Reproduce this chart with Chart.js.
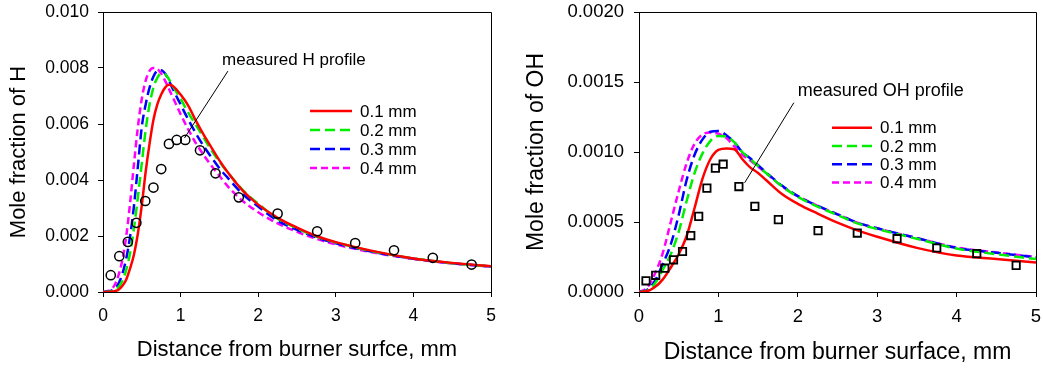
<!DOCTYPE html>
<html>
<head>
<meta charset="utf-8">
<title>H and OH profiles</title>
<script src="https://cdn.jsdelivr.net/npm/chart.js@4.4.1/dist/chart.umd.min.js"></script>
<style>
  html, body { margin: 0; padding: 0; background: #fff; }
  #wrap { position: relative; width: 1043px; height: 372px; }
  #hChart { position: absolute; left: 0; top: 0; }
  #ohChart { position: absolute; left: 520px; top: 0; }
</style>
</head>
<body>
<div id="wrap">
  <canvas id="hChart" width="520" height="372"></canvas>
  <canvas id="ohChart" width="523" height="372"></canvas>
</div>
<script>
// ---- H panel data ----
const distH = [0, 0.1, 0.15, 0.2, 0.25, 0.3, 0.35, 0.4, 0.45, 0.5, 0.55, 0.6, 0.65, 0.7, 0.75, 0.8, 0.85, 0.9,
  1.0, 1.1, 1.2, 1.3, 1.4, 1.5, 1.6, 1.8, 2.0, 2.25, 2.5, 2.75, 3.0, 3.5, 4.0, 4.5, 5.0];
const hModel01 = [0, 0.00001, 0.00003, 0.00008, 0.00022, 0.00045, 0.00085, 0.00135, 0.0021, 0.0031, 0.0043, 0.0053,
  0.00615, 0.0067, 0.00705, 0.0073, 0.0074, 0.00736, 0.00705, 0.00665, 0.0061, 0.0056, 0.00515, 0.0047, 0.0043,
  0.00362, 0.00312, 0.00265, 0.0023, 0.002, 0.00178, 0.00145, 0.0012, 0.00104, 0.00092];
const hModel02 = [0, 0.00002, 0.00006, 0.00018, 0.0004, 0.0008, 0.0014, 0.0023, 0.0034, 0.0046, 0.0058, 0.0067,
  0.0073, 0.00765, 0.0078, 0.00778, 0.0076, 0.00735, 0.0069, 0.0064, 0.00595, 0.0055, 0.00505, 0.00465, 0.0043,
  0.00365, 0.00315, 0.00262, 0.00227, 0.00198, 0.00177, 0.00144, 0.0012, 0.00103, 0.00091];
const hModel03 = [0, 0.00004, 0.00012, 0.0003, 0.00065, 0.0012, 0.002, 0.0031, 0.0045, 0.0059, 0.0067, 0.0073,
  0.0077, 0.0079, 0.00792, 0.0078, 0.00755, 0.00725, 0.0067, 0.00615, 0.00565, 0.0052, 0.0048, 0.00442, 0.0041,
  0.0035, 0.00305, 0.00255, 0.00222, 0.00195, 0.00174, 0.00142, 0.00119, 0.00103, 0.00091];
const hModel04 = [0, 0.00008, 0.00025, 0.0006, 0.00115, 0.002, 0.0032, 0.0046, 0.0059, 0.0069, 0.00755, 0.0079,
  0.008, 0.00797, 0.0078, 0.00755, 0.00725, 0.00695, 0.00635, 0.0058, 0.0053, 0.00488, 0.0045, 0.00415, 0.0038,
  0.00325, 0.00285, 0.00245, 0.00215, 0.0019, 0.0017, 0.0014, 0.00118, 0.00102, 0.0009];
const hMeasX = [0.1, 0.21, 0.32, 0.43, 0.545, 0.65, 0.75, 0.85, 0.95, 1.06, 1.25, 1.45, 1.75, 2.25, 2.76, 3.25, 3.75, 4.25, 4.75];
const hMeasY = [0.0006, 0.00128, 0.00179, 0.00247, 0.00325, 0.00373, 0.00439, 0.00529, 0.00543, 0.00543, 0.00506,
  0.00424, 0.00338, 0.0028, 0.00217, 0.00175, 0.00149, 0.00122, 0.00098];

// ---- OH panel data ----
const distOH = [0, 0.1, 0.2, 0.3, 0.4, 0.5, 0.6, 0.7, 0.8, 0.9, 1.0, 1.1, 1.2, 1.3, 1.4, 1.5, 1.6, 1.8, 2.0,
  2.25, 2.5, 2.75, 3.0, 3.5, 4.0, 4.5, 5.0];
const ohModel01 = [0, 0.000005, 0.000035, 0.00009, 0.000175, 0.00027, 0.0004, 0.0006, 0.00081, 0.00095, 0.001015,
  0.001025, 0.00102, 0.00095, 0.00089, 0.00085, 0.0008, 0.0007, 0.00063, 0.00056, 0.000495, 0.00044, 0.000395,
  0.000315, 0.00026, 0.000235, 0.00021];
const ohModel02 = [0, 0.00001, 0.00006, 0.00016, 0.00027, 0.00043, 0.00065, 0.00085, 0.00099, 0.00108, 0.001115,
  0.00111, 0.00107, 0.001, 0.00095, 0.0009, 0.00085, 0.000755, 0.00068, 0.00061, 0.00055, 0.00049, 0.00045,
  0.00038, 0.00031, 0.00027, 0.000235];
const ohModel03 = [0, 0.000015, 0.00008, 0.0002, 0.00034, 0.00055, 0.0008, 0.00098, 0.00109, 0.001145, 0.00115,
  0.00112, 0.00107, 0.001, 0.000955, 0.000905, 0.000855, 0.00076, 0.000685, 0.000615, 0.000555, 0.000495, 0.000455,
  0.000385, 0.000315, 0.00028, 0.000248];
const ohModel04 = [0, 0.00003, 0.00013, 0.00028, 0.0005, 0.00072, 0.00092, 0.00106, 0.001125, 0.00114, 0.00113,
  0.0011, 0.00104, 0.00098, 0.00094, 0.000895, 0.00085, 0.000755, 0.000685, 0.000615, 0.000555, 0.000495, 0.000455,
  0.000385, 0.000318, 0.000282, 0.00025];
const ohMeasX = [0.088, 0.21, 0.325, 0.435, 0.548, 0.652, 0.752, 0.855, 0.962, 1.06, 1.258, 1.459, 1.755, 2.255,
  2.749, 3.25, 3.75, 4.254, 4.75];
const ohMeasY = [0.00008, 0.000119, 0.00017, 0.00023, 0.000289, 0.000403, 0.00054, 0.000742, 0.000885, 0.000913,
  0.000753, 0.000612, 0.000517, 0.000438, 0.000421, 0.000381, 0.000314, 0.000274, 0.00019];

const seriesLabels = ['0.1 mm', '0.2 mm', '0.3 mm', '0.4 mm'];
const seriesColors = ['#ff0000', '#00ee00', '#0000ff', '#ff00ff'];
const seriesDash = [[], [10, 5], [10, 5], [7, 4]];

const chartFont = "'Liberation Sans', Arial, sans-serif";
Chart.defaults.color = '#000';
Chart.defaults.font.family = chartFont;

function pts(xs, ys) {
  return xs.map((x, i) => ({ x: x, y: ys[i] }));
}

function modelSets(xs, list) {
  return list.map((ys, i) => ({
    label: seriesLabels[i],
    data: pts(xs, ys),
    borderColor: seriesColors[i],
    borderDash: seriesDash[i],
    borderWidth: 2.5,
    pointRadius: 0,
    fill: false,
    cubicInterpolationMode: 'monotone'
  }));
}

// frame on top/right, leader line + note, and the little legend box
const notesPlugin = {
  id: 'notes',
  afterDatasetsDraw(chart, args, opts) {
    const { ctx, chartArea: a, scales } = chart;
    const sx = scales.x, sy = scales.y;
    ctx.save();
    ctx.strokeStyle = '#000';
    ctx.lineWidth = 1;
    ctx.setLineDash([]);
    const r = Math.round(a.right) + 0.5, t = Math.round(a.top) + 0.5;
    ctx.beginPath();
    ctx.moveTo(Math.round(a.left), t);
    ctx.lineTo(r, t);
    ctx.lineTo(r, Math.round(a.bottom) + 1);
    ctx.stroke();

    ctx.beginPath();
    ctx.moveTo(sx.getPixelForValue(opts.leadFrom[0]), sy.getPixelForValue(opts.leadFrom[1]));
    ctx.lineTo(sx.getPixelForValue(opts.leadTo[0]), sy.getPixelForValue(opts.leadTo[1]));
    ctx.stroke();

    ctx.fillStyle = '#000';
    ctx.textBaseline = 'middle';
    ctx.textAlign = 'left';
    ctx.font = opts.noteSize + 'px ' + chartFont;
    ctx.fillText(opts.note, sx.getPixelForValue(opts.noteAt[0]), sy.getPixelForValue(opts.noteAt[1]));

    ctx.font = opts.legendSize + 'px ' + chartFont;
    seriesLabels.forEach((lab, i) => {
      const y = opts.legendY + i * opts.legendGap;
      ctx.strokeStyle = seriesColors[i];
      ctx.lineWidth = 2.5;
      ctx.setLineDash(seriesDash[i]);
      ctx.beginPath();
      ctx.moveTo(opts.legendX, y);
      ctx.lineTo(opts.legendX + opts.legendLen, y);
      ctx.stroke();
      ctx.setLineDash([]);
      ctx.fillText(lab, opts.legendX + opts.legendLen + 8, y + 1);
    });
    ctx.restore();
  }
};

function makeChart(id, cfg) {
  const axisGrid = { display: true, drawOnChartArea: false, drawTicks: true, tickLength: 5, color: '#000' };
  return new Chart(document.getElementById(id), {
    type: 'line',
    data: {
      datasets: [
        {
          label: 'measured',
          data: pts(cfg.measX, cfg.measY),
          showLine: false,
          pointStyle: cfg.marker,
          pointRadius: cfg.markerSize,
          pointBorderWidth: cfg.markerBorder,
          pointBorderColor: '#000',
          pointBackgroundColor: 'rgba(0,0,0,0)'
        },
        ...modelSets(cfg.dist, cfg.models)
      ]
    },
    options: {
      responsive: false,
      animation: false,
      layout: { padding: { left: 0, top: 12, right: cfg.padRight, bottom: 0 } },
      plugins: {
        legend: { display: false },
        tooltip: { enabled: false },
        notes: cfg.notes
      },
      scales: {
        x: {
          type: 'linear',
          min: 0,
          max: 5,
          grid: axisGrid,
          border: { display: true, color: '#000', width: 1 },
          ticks: { stepSize: 1, padding: 9, font: { size: cfg.tickSize } },
          title: {
            display: true,
            text: cfg.xTitle,
            font: { size: cfg.titleSize },
            padding: { top: 0, bottom: cfg.xTitlePad }
          },
          afterFit: (s) => {
            s.height = 80;
            s.paddingLeft = 0;
            s.paddingRight = 0;
          }
        },
        y: {
          min: 0,
          max: cfg.yMax,
          grid: axisGrid,
          border: { display: true, color: '#000', width: 1 },
          ticks: {
            stepSize: cfg.yStep,
            padding: cfg.yTickPad,
            font: { size: cfg.tickSize },
            callback: (v) => v.toFixed(cfg.decimals)
          },
          title: {
            display: true,
            text: cfg.yTitle,
            font: { size: cfg.titleSize },
            padding: { top: cfg.yTitlePad, bottom: 0 }
          },
          afterFit: (s) => {
            s.width = cfg.yWidth;
            s.paddingTop = 0;
            s.paddingBottom = 0;
          }
        }
      }
    },
    plugins: [notesPlugin]
  });
}

makeChart('hChart', {
  dist: distH,
  models: [hModel01, hModel02, hModel03, hModel04],
  measX: hMeasX, measY: hMeasY,
  marker: 'circle', markerSize: 4.6, markerBorder: 1.5,
  yMax: 0.010, yStep: 0.002, decimals: 3,
  tickSize: 17.5, titleSize: 22, yTickPad: 9,
  yWidth: 103, padRight: 29, xTitlePad: 9, yTitlePad: 6,
  xTitle: 'Distance from burner surfce, mm',
  yTitle: 'Mole fraction of H',
  notes: {
    note: 'measured H profile', noteSize: 17, noteAt: [1.535, 0.00828],
    leadFrom: [1.61, 0.00789], leadTo: [1.05, 0.0055],
    legendX: 310, legendY: 111, legendGap: 19, legendLen: 42, legendSize: 17
  }
});

makeChart('ohChart', {
  dist: distOH,
  models: [ohModel01, ohModel02, ohModel03, ohModel04],
  measX: ohMeasX, measY: ohMeasY,
  marker: 'rect', markerSize: 5.2, markerBorder: 1.8,
  yMax: 0.0020, yStep: 0.0005, decimals: 4,
  tickSize: 18.5, titleSize: 23, yTickPad: 10,
  yWidth: 119, padRight: 6, xTitlePad: 5.5, yTitlePad: 3,
  xTitle: 'Distance from burner surface, mm',
  yTitle: 'Mole fraction of OH',
  notes: {
    note: 'measured OH profile', noteSize: 18, noteAt: [2.0, 0.001438],
    leadFrom: [1.95, 0.001352], leadTo: [1.33, 0.00078],
    legendX: 312, legendY: 127.7, legendGap: 18.3, legendLen: 40, legendSize: 17
  }
});
</script>
</body>
</html>
